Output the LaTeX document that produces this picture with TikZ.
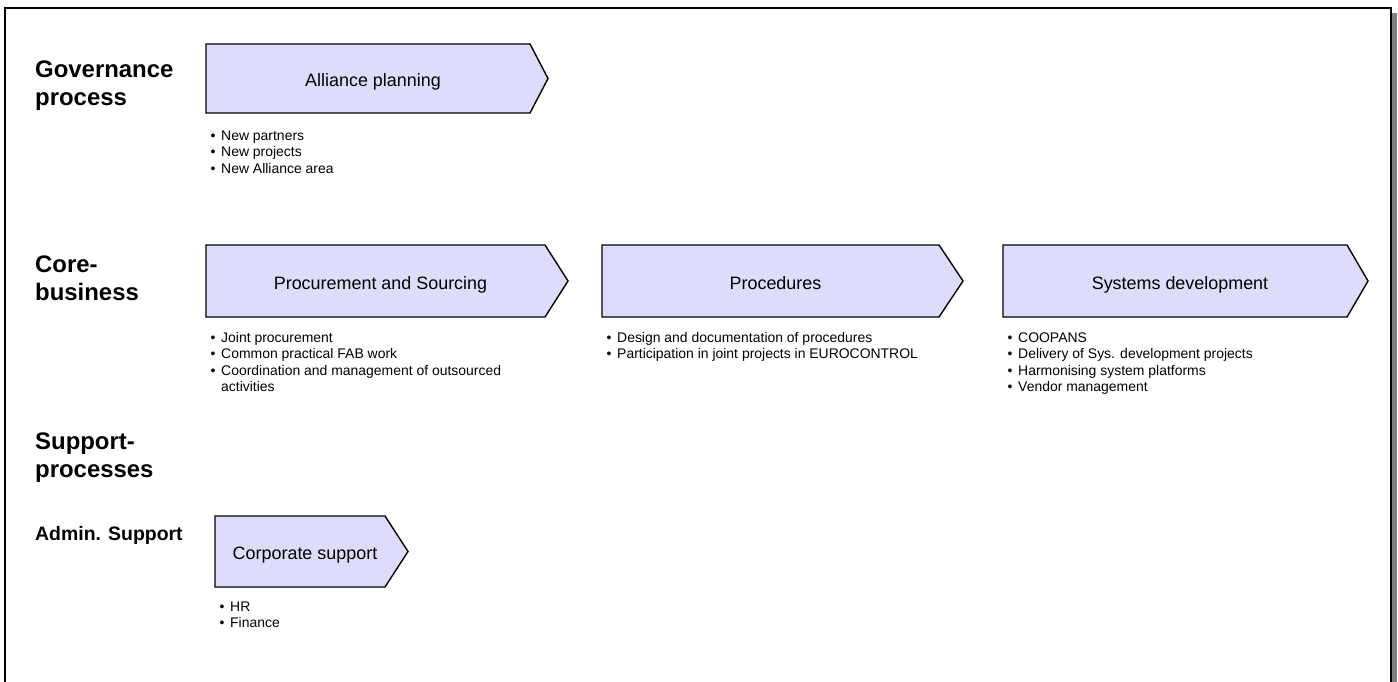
\documentclass[tikz,border=0pt]{standalone}
\usepackage{fontspec}
\setmainfont{Liberation Sans}
\definecolor{boxfill}{RGB}{221,221,251}
\definecolor{shadowgrey}{RGB}{128,128,128}
% one bulleted line: bullet, then text at a fixed indent
\newcommand\bitem[1]{\strut\makebox[15bp][l]{\hspace{4.5bp}\textbullet}#1}
\newcommand\bcont[1]{\strut\hspace*{15bp}#1}
% chevron-shaped process box: left, right, tip, top, bottom
\newcommand\chevronbox[5]{%
  \draw[chevron] (#1,#4) -- (#2,#4) -- (#3,{(#4+#5)/2}) -- (#2,#5) -- (#1,#5) -- cycle;}
\begin{document}
\begin{tikzpicture}[x=1bp,y=-1bp,
  chevron/.style={draw=black,line width=1.4bp,fill=boxfill,line join=miter},
  boxlabel/.style={font=\fontsize{18}{21}\selectfont,inner sep=0,anchor=base},
  rowlabel/.style={font=\bfseries\fontsize{24}{28}\selectfont,inner sep=0,anchor=north west,align=left},
  sublabel/.style={font=\bfseries\fontsize{19.5}{23}\selectfont,inner sep=0,anchor=base west},
  bullets/.style={font=\fontsize{14}{16.5}\selectfont,inner sep=0,anchor=north west,align=left},
]
\useasboundingbox (0,0) rectangle (1398,682);
\clip (0,0) rectangle (1398,682);
\fill[white] (0,0) rectangle (1398,682);

% page frame with drop shadow
\fill[shadowgrey] (1392,13) rectangle (1397,690);
\draw[line width=1.5bp] (5,690) -- (5,8) -- (1391,8) -- (1391,690);

% row headings (first baseline = top + 0.7*28)
\node[rowlabel] (gov)  at (35,57.4)  {\strut Governance\\\strut process};
\node[rowlabel] (core) at (35,252.4) {\strut Core-\\\strut business};
\node[rowlabel] (supp) at (35,429.4) {\strut Support-\\\strut processes};
\node[sublabel] (admin) at (35,540) {Admin. Support};

% governance
\chevronbox{206}{530}{548}{44}{113}
\node[boxlabel] (alliance) at (373,86.5) {Alliance planning};
\node[bullets] (allianceitems) at (206,128.45)
  {\bitem{New partners}\\\bitem{New projects}\\\bitem{New Alliance area}};

% core business
\chevronbox{206}{545}{568}{245}{317}
\node[boxlabel] (procurement) at (380.5,289) {Procurement and Sourcing};
\node[bullets] (procitems) at (206,330.45)
  {\bitem{Joint procurement}\\\bitem{Common practical FAB work}\\
   \bitem{Coordination and management of outsourced}\\\bcont{activities}};

\chevronbox{602}{939}{963}{245}{317}
\node[boxlabel] (procedures) at (775.5,289) {Procedures};
\node[bullets] (procedureitems) at (602,330.45)
  {\bitem{Design and documentation of procedures}\\
   \bitem{Participation in joint projects in EUROCONTROL}};

\chevronbox{1003}{1347}{1368}{245}{317}
\node[boxlabel] (systems) at (1180,289) {Systems development};
\node[bullets] (sysitems) at (1003,330.45)
  {\bitem{COOPANS}\\\bitem{Delivery of Sys. development projects}\\
   \bitem{Harmonising system platforms}\\\bitem{Vendor management}};

% support processes
\chevronbox{215}{385}{408}{516}{587}
\node[boxlabel] (corporate) at (305,559.5) {Corporate support};
\node[bullets] (corpitems) at (215,599.45)
  {\bitem{HR}\\\bitem{Finance}};
\end{tikzpicture}
\end{document}
